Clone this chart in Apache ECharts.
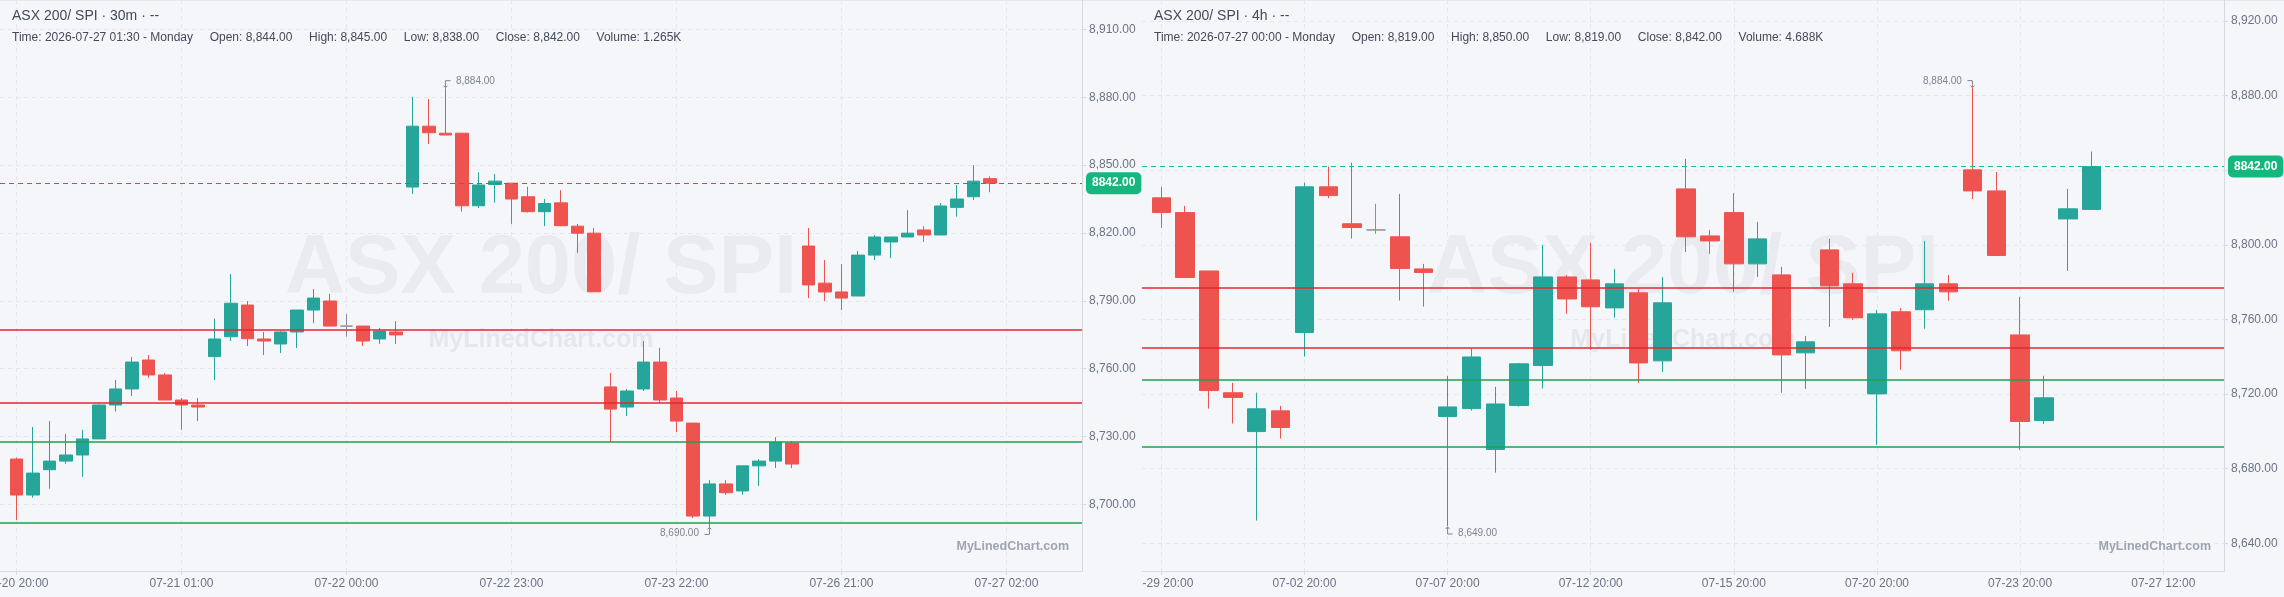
<!DOCTYPE html>
<html>
<head>
<meta charset="utf-8">
<script src="https://cdn.jsdelivr.net/npm/echarts@6.0.0/dist/echarts.min.js"></script>
<style>
  html, body { margin: 0; padding: 0; background: #f5f6fa; }
  .pane { position: absolute; top: 0; width: 1142px; height: 597px; }
  #left { left: 0; }
  #right { left: 1142px; }
</style>
</head>
<body>
<div id="left" class="pane"></div>
<div id="right" class="pane"></div>
<script>
// values, bars are [open, close, low, high]
let bars30m = [
    [8720.0, 8704.1, 8693.1, 8720.6], [8704.1, 8713.8, 8702.9, 8734.2], [8715.3, 8719.1, 8706.9, 8736.8],
    [8719.1, 8721.8, 8718.0, 8731.1], [8721.8, 8728.9, 8712.2, 8732.9], [8728.9, 8743.9, 8728.9, 8744.2],
    [8743.9, 8751.0, 8741.0, 8755.0], [8751.0, 8762.9, 8747.9, 8765.1], [8763.8, 8757.2, 8756.0, 8766.0],
    [8757.2, 8746.1, 8746.1, 8758.0], [8746.1, 8743.9, 8732.9, 8747.0], [8743.9, 8743.0, 8736.8, 8747.0],
    [8765.3, 8773.1, 8755.0, 8782.1], [8774.1, 8788.9, 8772.2, 8801.8], [8788.1, 8773.2, 8770.0, 8789.9],
    [8773.1, 8772.2, 8766.0, 8776.2], [8770.9, 8776.2, 8766.9, 8776.6], [8776.2, 8785.9, 8769.1, 8785.9],
    [8785.9, 8791.2, 8780.1, 8795.2], [8789.9, 8778.8, 8778.8, 8793.0], [8778.8, 8778.8, 8774.1, 8784.1],
    [8778.8, 8772.2, 8770.0, 8778.8], [8773.1, 8776.6, 8770.9, 8778.0], [8776.2, 8774.9, 8770.9, 8781.0],
    [8840.3, 8867.2, 8837.2, 8880.2], [8867.2, 8864.3, 8859.3, 8879.2], [8864.1, 8863.3, 8863.3, 8884.0],
    [8864.1, 8832.0, 8829.4, 8864.1], [8832.0, 8841.2, 8831.0, 8846.8], [8841.4, 8842.9, 8833.4, 8846.0],
    [8842.0, 8835.0, 8824.0, 8842.0], [8836.0, 8829.4, 8829.0, 8840.4], [8829.4, 8833.0, 8823.0, 8835.0],
    [8833.3, 8823.2, 8823.0, 8838.9], [8823.0, 8819.9, 8811.2, 8824.0], [8819.9, 8794.0, 8794.0, 8822.2],
    [8751.9, 8742.1, 8727.4, 8758.1], [8743.0, 8750.1, 8739.0, 8751.0], [8751.0, 8762.9, 8750.1, 8772.2],
    [8762.9, 8746.1, 8744.8, 8769.2], [8747.0, 8736.8, 8732.0, 8750.1], [8735.9, 8694.8, 8693.9, 8735.9],
    [8694.8, 8709.0, 8690.0, 8710.7], [8709.0, 8705.1, 8704.2, 8710.7], [8705.9, 8717.0, 8704.2, 8717.0],
    [8717.0, 8719.1, 8708.1, 8720.0], [8719.1, 8727.4, 8716.0, 8729.7], [8727.1, 8717.8, 8716.0, 8728.0],
    [8814.2, 8797.0, 8791.2, 8822.2], [8797.8, 8793.9, 8789.9, 8808.0], [8793.9, 8791.2, 8785.9, 8806.2],
    [8792.1, 8810.2, 8792.1, 8812.0], [8810.2, 8818.2, 8808.0, 8819.1], [8816.0, 8818.2, 8808.9, 8818.2],
    [8818.2, 8819.9, 8818.2, 8830.1], [8821.3, 8819.1, 8816.0, 8823.0], [8819.1, 8831.9, 8819.1, 8833.2],
    [8831.3, 8835.0, 8827.2, 8841.2], [8836.0, 8842.9, 8834.5, 8850.0], [8844.0, 8842.0, 8838.0, 8845.0]
];
// one label every 10 bars
let ticks30m = ['07-20 20:00', '07-21 01:00', '07-22 00:00', '07-22 23:00', '07-23 22:00', '07-26 21:00', '07-27 02:00'];
let yTicks30m = [8700, 8730, 8760, 8790, 8820, 8850, 8880, 8910];

let bars4h = [
    [8825.2, 8817.3, 8809.1, 8831.1], [8817.3, 8782.5, 8782.5, 8820.9], [8786.0, 8721.9, 8712.2, 8786.0],
    [8720.7, 8718.2, 8704.2, 8726.0], [8699.9, 8712.1, 8652.2, 8720.7], [8711.0, 8702.1, 8696.2, 8713.7],
    [8753.0, 8831.1, 8740.1, 8833.4], [8831.1, 8826.4, 8825.0, 8842.0], [8811.3, 8809.3, 8803.4, 8844.1],
    [8808.0, 8808.0, 8805.9, 8822.0], [8804.3, 8787.3, 8770.2, 8827.3], [8787.1, 8785.2, 8766.9, 8789.8],
    [8708.0, 8713.1, 8649.0, 8729.8], [8712.2, 8739.9, 8711.2, 8744.4], [8690.3, 8714.7, 8677.9, 8723.9],
    [8713.9, 8736.2, 8713.3, 8736.7], [8735.3, 8782.8, 8723.0, 8800.0], [8782.8, 8771.0, 8763.0, 8783.9],
    [8781.2, 8766.8, 8743.7, 8801.1], [8766.2, 8779.1, 8760.9, 8787.1], [8774.3, 8736.7, 8726.0, 8776.4],
    [8737.8, 8768.9, 8731.9, 8782.8], [8830.0, 8804.3, 8796.2, 8846.1], [8804.8, 8802.1, 8795.1, 8808.0],
    [8817.3, 8789.8, 8774.8, 8827.7], [8789.8, 8803.2, 8782.8, 8812.3], [8783.9, 8741.0, 8720.7, 8788.2],
    [8742.1, 8748.0, 8722.8, 8751.2], [8797.3, 8778.0, 8756.0, 8803.2], [8779.1, 8760.9, 8759.8, 8785.0],
    [8720.1, 8763.0, 8692.8, 8765.1], [8764.1, 8743.2, 8733.0, 8766.2], [8765.2, 8779.1, 8755.0, 8802.1],
    [8779.1, 8774.8, 8770.0, 8783.9], [8840.2, 8828.9, 8824.5, 8884.0], [8828.9, 8794.3, 8794.3, 8839.1],
    [8751.7, 8705.3, 8690.1, 8772.1], [8705.8, 8718.0, 8704.0, 8729.8], [8813.9, 8819.3, 8786.0, 8830.0],
    [8819.0, 8842.0, 8819.0, 8850.0]
];
// one label every 6 bars
let ticks4h = ['06-29 20:00', '07-02 20:00', '07-07 20:00', '07-12 20:00', '07-15 20:00', '07-20 20:00', '07-23 20:00', '07-27 12:00'];
let yTicks4h = [8640, 8680, 8720, 8760, 8800, 8840, 8880, 8920];

// drawn levels, same on both charts
let resistance = [8777, 8745];
let support = [8727.5, 8692];

const SYMBOL = 'ASX 200/ SPI';
const FONT = '"Liberation Sans", Arial, sans-serif';
const UP = '#26a69a', DOWN = '#ef5350', DOJI = '#8b8e95';
const RED = '#e0282f', GREEN = '#1ea04f';
const TXT = '#434a59', AXIS_TXT = '#6b7384', GRID = '#e4e7ed', AXIS = '#d6d9e0', NOTE = '#7d8391';

// bent arrows next to the high / low marks
const ARROWS = {
    'high-right': {path: 'path://M7,0L2,0L2,7M0,5L2,7L4,5', off: [1.5, -4], align: 'left', d: [9, -2.6]},
    'high-left': {path: 'path://M0,0L5,0L5,7M3,5L5,7L7,5', off: [-1.5, -4], align: 'right', d: [-9, -2.6]},
    'low-left': {path: 'path://M0,7L5,7L5,0M3,2L5,0L7,2', off: [-1.5, 4], align: 'right', d: [-9, 2.6]},
    'low-right': {path: 'path://M7,7L2,7L2,0M0,2L2,0L4,2', off: [1.5, 4], align: 'left', d: [9, 2.6]}
};

function fmt(v) {
    return v.toLocaleString('en-US', {minimumFractionDigits: 2, maximumFractionDigits: 2});
}

function note(kind, side, idx, val) {
    let a = ARROWS[kind + '-' + side];
    return {
        coord: [idx, val], value: val,
        symbol: a.path, symbolSize: [7, 7], symbolOffset: a.off,
        itemStyle: {color: 'none', borderColor: NOTE, borderWidth: 1},
        label: {
            show: true, position: 'inside', offset: a.d, align: a.align, verticalAlign: 'middle',
            formatter: fmt(val), color: NOTE, fontSize: 10, fontFamily: FONT
        }
    };
}

function makeOption(p) {
    let bars = p.bars;
    let last = bars[bars.length - 1];
    let hi = 0, lo = 0;
    bars.forEach((b, i) => {
        if (b[3] > bars[hi][3]) hi = i;
        if (b[2] < bars[lo][2]) lo = i;
    });
    let xTicks = p.ticks.map((t, k) => k * p.step);
    let info = [
        'Time: ' + p.time, 'Open: ' + fmt(last[0]), 'High: ' + fmt(last[3]),
        'Low: ' + fmt(last[2]), 'Close: ' + fmt(last[1]), 'Volume: ' + p.volume
    ].join('     ');

    let levels = resistance.map(v => ({yAxis: v, lineStyle: {color: RED, width: 1.5, type: 'solid'}}))
        .concat(support.map(v => ({yAxis: v, lineStyle: {color: GREEN, width: 1.5, type: 'solid'}})));
    levels.push({
        yAxis: last[1],
        lineStyle: {color: p.priceColor, width: 1, type: [5, 4]},
        label: {
            show: true, position: 'end', distance: 4, formatter: last[1].toFixed(2),
            color: '#fff', fontWeight: 'bold', fontSize: 12, fontFamily: FONT,
            backgroundColor: '#16b77f', borderRadius: 5, padding: [5, 6]
        }
    });

    return {
        backgroundColor: '#f5f6fa',
        animation: false,
        grid: {left: 0, right: 60, top: 0, bottom: 26, outerBoundsMode: 'none'},
        xAxis: {
            type: 'value', min: p.xMin, max: p.xMax,
            axisLine: {show: true, onZero: false, lineStyle: {color: AXIS}},
            axisTick: {show: true, customValues: xTicks, length: 4, lineStyle: {color: AXIS}},
            axisLabel: {
                customValues: xTicks, formatter: v => p.ticks[Math.round(v / p.step)],
                color: AXIS_TXT, fontSize: 12, fontFamily: FONT, margin: 7
            },
            splitLine: {show: true, lineStyle: {color: GRID, type: [4, 4]}}
        },
        yAxis: {
            type: 'value', position: 'right', min: p.yMin, max: p.yMax, scale: true,
            axisLine: {show: true, onZero: false, lineStyle: {color: AXIS}},
            axisTick: {show: true, customValues: p.yTicks, length: 4, lineStyle: {color: AXIS}},
            axisLabel: {
                customValues: p.yTicks, formatter: fmt,
                color: AXIS_TXT, fontSize: 12, fontFamily: FONT, margin: 7
            },
            splitLine: {show: true, lineStyle: {color: GRID, type: [4, 4]}}
        },
        graphic: [
            {type: 'line', shape: {x1: 0, y1: 0.5, x2: 1142, y2: 0.5}, style: {stroke: '#e3e6eb', lineWidth: 1}},
            {type: 'text', x: 541, y: 270, z: 1, silent: true,
                style: {text: SYMBOL, fill: '#eaebf0', fontSize: 83, fontWeight: 'bold', fontFamily: FONT, align: 'center', verticalAlign: 'middle'}},
            {type: 'text', x: 541, y: 340, z: 1, silent: true,
                style: {text: 'MyLinedChart.com', fill: '#e5e7ec', fontSize: 25, fontWeight: 'bold', fontFamily: FONT, align: 'center', verticalAlign: 'middle'}},
            {type: 'text', x: 1069, y: 547, z: 5,
                style: {text: 'MyLinedChart.com', fill: '#9ea4b3', fontSize: 12.5, fontWeight: 'bold', fontFamily: FONT, align: 'right', verticalAlign: 'middle'}},
            {type: 'text', x: 12, y: 16, z: 5,
                style: {text: SYMBOL + ' · ' + p.period + ' · --', fill: TXT, fontSize: 14, fontFamily: FONT, verticalAlign: 'middle'}},
            {type: 'text', x: 12, y: 38, z: 5,
                style: {text: info, fill: TXT, fontSize: 12, fontFamily: FONT, verticalAlign: 'middle'}}
        ],
        series: [{
            type: 'candlestick',
            data: bars.map((b, i) => [i, b[0], b[1], b[2], b[3]]),
            barWidth: p.candleWidth,
            itemStyle: {color: UP, color0: DOWN, borderColor: UP, borderColor0: DOWN, borderColorDoji: DOJI, borderWidth: 1},
            markLine: {silent: true, symbol: ['none', 'none'], label: {show: false}, data: levels},
            markPoint: {silent: true, data: [note('high', p.hiSide, hi, bars[hi][3]), note('low', p.loSide, lo, bars[lo][2])]}
        }]
    };
}

let chartL = echarts.init(document.getElementById('left'));
chartL.setOption(makeOption({
    bars: bars30m, ticks: ticks30m, step: 10, yTicks: yTicks30m,
    period: '30m', time: '2026-07-27 01:30 - Monday', volume: '1.265K',
    xMin: -1, xMax: 64.58, yMin: 8670.5, yMax: 8923,
    candleWidth: 13, priceColor: '#e5395a', hiSide: 'right', loSide: 'left'
}));

let chartR = echarts.init(document.getElementById('right'));
chartR.setOption(makeOption({
    bars: bars4h, ticks: ticks4h, step: 6, yTicks: yTicks4h,
    period: '4h', time: '2026-07-27 00:00 - Monday', volume: '4.688K',
    xMin: -0.809, xMax: 44.545, yMin: 8625.15, yMax: 8931.26,
    candleWidth: 19, priceColor: '#1fbf8c', hiSide: 'left', loSide: 'right'
}));
</script>
</body>
</html>
